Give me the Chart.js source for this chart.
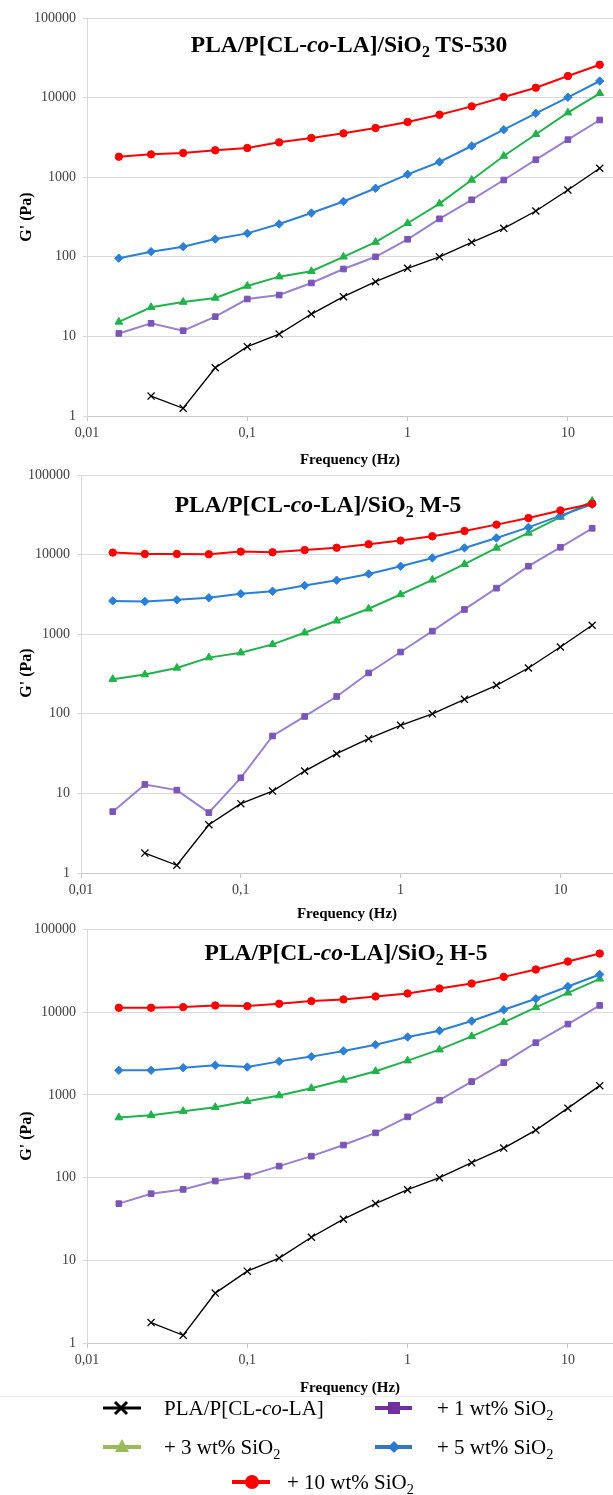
<!DOCTYPE html>
<html><head><meta charset="utf-8">
<script src="https://cdn.jsdelivr.net/npm/chart.js@4.4.0/dist/chart.umd.min.js"></script>
<style>
html,body{margin:0;padding:0;background:#fff;}
body{width:613px;height:1495px;position:relative;overflow:hidden;font-family:'Liberation Serif','Times New Roman',serif;color:#000;}
canvas{position:absolute;left:0;}
.t{position:absolute;font-weight:bold;font-size:23.5px;white-space:nowrap;transform:translate(-50%,-50%);line-height:1;}
.sub{font-size:0.68em;position:relative;top:0.32em;}
.yt{position:absolute;font-weight:bold;font-size:16px;white-space:nowrap;transform:translate(-50%,-50%) rotate(-90deg);line-height:1;}
.xt{position:absolute;font-weight:bold;font-size:15px;white-space:nowrap;transform:translate(-50%,-50%);line-height:1;}
.lg{position:absolute;font-size:21px;white-space:nowrap;line-height:1;transform:translateY(-50%);}
.rule{position:absolute;left:0;width:613px;height:1px;background:#ececec;}
</style>
</head><body>
<canvas id="c1"></canvas>
<canvas id="c2"></canvas>
<canvas id="c3"></canvas>

<div class="t" style="left:349px;top:45px;">PLA/P[CL-<i>co</i>-LA]/SiO<span class="sub">2</span> TS-530</div>
<div class="t" style="left:318px;top:505px;">PLA/P[CL-<i>co</i>-LA]/SiO<span class="sub">2</span> M-5</div>
<div class="t" style="left:346px;top:953px;">PLA/P[CL-<i>co</i>-LA]/SiO<span class="sub">2</span> H-5</div>

<div class="yt" style="left:26px;top:217px;">G' (Pa)</div>
<div class="yt" style="left:26px;top:673px;">G' (Pa)</div>
<div class="yt" style="left:26px;top:1136px;">G' (Pa)</div>

<div class="xt" style="left:350px;top:459px;">Frequency (Hz)</div>
<div class="xt" style="left:347px;top:913px;">Frequency (Hz)</div>
<div class="xt" style="left:350px;top:1387px;">Frequency (Hz)</div>

<div class="rule" style="top:1396px;"></div>

<svg style="position:absolute;left:0;top:1390px;" width="613" height="105">
  <line x1="103" y1="18" x2="141" y2="18" stroke="#000" stroke-width="3"/>
  <line x1="115" y1="12" x2="127" y2="24" stroke="#000" stroke-width="3"/>
  <line x1="115" y1="24" x2="127" y2="12" stroke="#000" stroke-width="3"/>
  <line x1="375" y1="18" x2="412" y2="18" stroke="#7030a0" stroke-width="4"/>
  <rect x="388" y="12" width="12" height="12" fill="#7030a0"/>
  <line x1="103" y1="57" x2="141" y2="57" stroke="#9bbb59" stroke-width="4"/>
  <polygon points="122,49 129,62 115,62" fill="#9bbb59"/>
  <line x1="375" y1="57" x2="412" y2="57" stroke="#2e78cc" stroke-width="4"/>
  <polygon points="394,51 400,57 394,63 388,57" fill="#2e78cc"/>
  <line x1="232" y1="92" x2="270" y2="92" stroke="#ff0000" stroke-width="4"/>
  <circle cx="252" cy="92" r="7" fill="#ff0000"/>
</svg>
<div class="lg" style="left:164px;top:1408px;">PLA/P[CL-<i>co</i>-LA]</div>
<div class="lg" style="left:437px;top:1408px;">+ 1 wt% SiO<span class="sub">2</span></div>
<div class="lg" style="left:164px;top:1447px;">+ 3 wt% SiO<span class="sub">2</span></div>
<div class="lg" style="left:437px;top:1447px;">+ 5 wt% SiO<span class="sub">2</span></div>
<div class="lg" style="left:287px;top:1482px;">+ 10 wt% SiO<span class="sub">2</span></div>

<script>
// ---- data ----
const freqs = [0.0158, 0.0251, 0.0398, 0.0631, 0.1, 0.158, 0.251, 0.398, 0.631, 1, 1.58, 2.51, 3.98, 6.31, 10, 15.8];
const xTicks = [0.01, 0.1, 1, 10];
const xTickLabels = ['0,01', '0,1', '1', '10'];
const yTicks = [1, 10, 100, 1000, 10000, 100000];
const yTickLabels = ['1', '10', '100', '1000', '10000', '100000'];
const seriesNames = ['PLA/P[CL-co-LA]', '+ 1 wt% SiO2', '+ 3 wt% SiO2', '+ 5 wt% SiO2', '+ 10 wt% SiO2'];

// neat blend (same in all panels)
const neat = [null, 1.78, 1.25, 4.04, 7.43, 10.7, 19.1, 31.5, 48.7, 71.6, 100, 152, 228, 376, 691, 1294];

// TS-530
const ts1 = [10.9, 14.6, 11.8, 17.7, 29.5, 33.1, 46.9, 70.3, 100, 166, 300, 520, 922, 1660, 2960, 5230];
const ts3 = [15.2, 23.2, 27, 30.4, 43, 56.3, 65.8, 100, 153, 264, 465, 923, 1846, 3460, 6470, 11330];
const ts5 = [96, 116, 134, 167, 197, 258, 355, 495, 726, 1087, 1553, 2466, 3953, 6350, 10090, 16170];
const ts10 = [1807, 1936, 2014, 2178, 2328, 2742, 3105, 3556, 4150, 4932, 6095, 7762, 10180, 13300, 18660, 25880];

// M-5
const m1 = [5.9, 12.95, 11.0, 5.73, 15.7, 52.6, 92.6, 165, 326, 597, 1094, 2046, 3788, 7150, 12360, 21400];
const m3 = [272, 311, 377, 508, 586, 745, 1043, 1474, 2086, 3153, 4818, 7570, 12130, 18700, 29650, 47100];
const m5 = [2620, 2580, 2700, 2870, 3220, 3470, 4090, 4770, 5720, 7140, 9080, 12130, 16180, 22000, 30860, 42800];
const m10 = [10600, 10200, 10200, 10100, 10900, 10700, 11400, 12200, 13500, 15000, 17000, 19800, 23800, 28800, 35900, 43600];

// H-5
const h1 = [48.6, 64.1, 72.2, 91.2, 104.7, 138, 182, 248, 348, 543, 863, 1449, 2455, 4274, 7170, 12030];
const h3 = [533, 569, 636, 710, 839, 982, 1203, 1516, 1929, 2592, 3519, 5090, 7520, 11380, 17090, 25240];
const h5 = [1980, 1980, 2130, 2280, 2170, 2540, 2900, 3390, 4040, 5000, 5960, 7800, 10670, 14480, 20370, 28440];
const h10 = [11280, 11280, 11490, 12030, 11810, 12600, 13580, 14230, 15460, 16780, 19280, 22140, 26640, 32690, 40790, 50930];

// ---- styles ----
Chart.defaults.font.family = "'Liberation Serif','Times New Roman',serif";
const STY = [
  {line:'#000000', pt:'#000000', ps:'crossRot', r:5, w:1.4, pbw:1.3},
  {line:'#9a80cf', pt:'#7a56b8', ps:'rect', r:4, w:2, pbw:1},
  {line:'#22b24c', pt:'#22b24c', ps:'triangle', r:4.5, w:2, pbw:1},
  {line:'#2b7fd6', pt:'#2b7fd6', ps:'rectRot', r:4.2, w:2, pbw:1},
  {line:'#ff0000', pt:'#ff0000', ps:'circle', r:3.7, w:2, pbw:1}
];

function pts(arr){ return freqs.map((f,i)=>({x:f, y:arr[i]})); }

const CW = 640; // canvas wider than page; page clips at 613

function makeChart(id, top, height, padTop, axisLeft, axisH, decadePx, series){
  const cv = document.getElementById(id);
  cv.width = CW; cv.height = height;
  cv.style.top = top + 'px';
  cv.style.width = CW + 'px'; cv.style.height = height + 'px';
  const ds = [];
  for (let k = series.length - 1; k >= 0; k--) {
    const s = STY[k];
    ds.push({
      label: seriesNames[k],
      data: pts(series[k]),
      borderColor: s.line, backgroundColor: s.pt,
      pointBackgroundColor: s.pt, pointBorderColor: s.pt,
      pointStyle: s.ps, pointRadius: s.r, pointBorderWidth: s.pbw,
      borderWidth: s.w, tension: 0, spanGaps: false, clip: false
    });
  }
  const ch = new Chart(cv, {
    type: 'line',
    data: { datasets: ds },
    options: {
      responsive: false, animation: false, devicePixelRatio: 1,
      layout: { padding: { top: padTop, left: 0, right: 0, bottom: 0 } },
      plugins: { legend: { display: false }, tooltip: { enabled: false }, title: { display: false } },
      scales: {
        x: {
          type: 'logarithmic', min: 0.01, max: 20,
          afterBuildTicks: s => { s.ticks = xTicks.map(v => ({value: v})); },
          afterFit: s => { s.height = axisH; },
          grid: { drawOnChartArea: false, drawTicks: true, tickLength: 5, color: '#c8c8c8' },
          border: { display: true, color: '#c8c8c8', width: 1 },
          ticks: { autoSkip: false, maxRotation: 0, color: '#404040', font: { size: 14 }, padding: 4,
                   callback: (v, i) => xTickLabels[i] }
        },
        y: {
          type: 'logarithmic', min: 1, max: 100000,
          afterBuildTicks: s => { s.ticks = yTicks.map(v => ({value: v})); },
          afterFit: s => { s.width = axisLeft; },
          grid: { drawOnChartArea: true, drawTicks: true, tickLength: 4, color: '#d9d9d9' },
          border: { display: true, color: '#d9d9d9', width: 1 },
          ticks: { autoSkip: false, color: '#404040', font: { size: 14 }, padding: 7,
                   callback: (v, i) => yTickLabels[i] }
        }
      }
    }
  });
  // set the x range so that one decade spans decadePx pixels
  const ca = ch.chartArea;
  ch.options.scales.x.max = Math.pow(10, (ca.right - ca.left) / decadePx - 2);
  ch.update('none');
  return ch;
}

makeChart('c1', 0, 470, 18, 87, 54, 160.3, [neat, ts1, ts3, ts5, ts10]);
makeChart('c2', 455, 465, 20, 81, 47, 159.8, [neat, m1, m3, m5, m10]);
makeChart('c3', 910, 490, 19.3, 87, 56.7, 160.3, [neat, h1, h3, h5, h10]);
</script>
</body></html>
